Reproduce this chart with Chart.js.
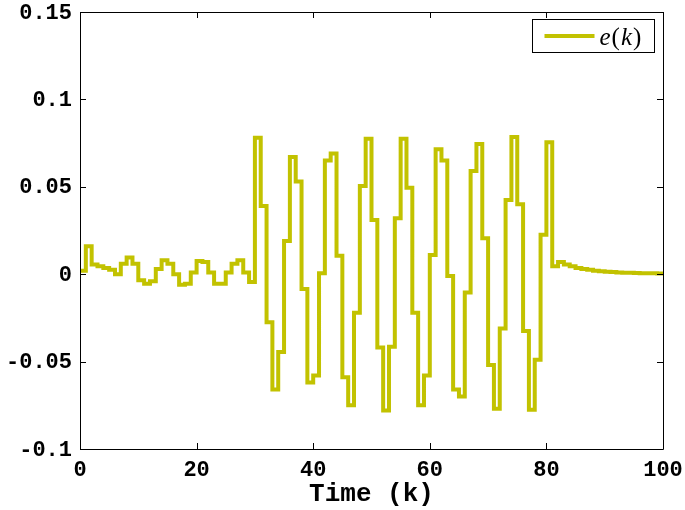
<!DOCTYPE html>
<html>
<head>
<meta charset="utf-8">
<script src="https://cdn.jsdelivr.net/npm/chart.js@4"></script>
<style>
  html, body { margin: 0; padding: 0; background: #fff; }
  #wrap { width: 685px; height: 510px; }
</style>
</head>
<body>
<div id="wrap"><canvas id="errChart" width="685" height="510"></canvas></div>
<script>
// time steps k = 0..100
const timeSteps = Array.from({ length: 101 }, (_, i) => i);

// tracking error e(k), one value per step
const errorValues = [
    0.002, 0.016, 0.0055, 0.0045, 0.0035, 0.0025, 0.0, 0.006, 0.0095, 0.006,
    -0.0035, -0.0055, -0.004, 0.003, 0.008, 0.006, 0.0, -0.006, -0.0055, 0.001,
    0.0075, 0.007, 0.001, -0.0055, -0.0055, 0.001, 0.006, 0.008, 0.001, -0.0045,
    0.078, 0.039, -0.0275, -0.066, -0.0445, 0.019, 0.067, 0.053, -0.0085, -0.062,
    -0.058, 0.0005, 0.065, 0.069, 0.0105, -0.059, -0.075, -0.022, 0.0505, 0.0775,
    0.031, -0.042, -0.078, -0.0415, 0.032, 0.0775, 0.0495, -0.022, -0.075, -0.058,
    0.011, 0.0715, 0.065, -0.001, -0.066, -0.070, -0.0105, 0.059, 0.0745, 0.0205,
    -0.052, -0.077, -0.031, 0.0425, 0.0785, 0.040, -0.0325, -0.0775, -0.049, 0.0225,
    0.0755, 0.0045, 0.007, 0.0055, 0.0045, 0.0035, 0.003, 0.0025, 0.002, 0.0017,
    0.0014, 0.0012, 0.001, 0.0009, 0.0008, 0.0007, 0.0006, 0.0005, 0.0005, 0.0004,
    0.0004
];

const xTicks = [0, 20, 40, 60, 80, 100];
const yTicks = [-0.1, -0.05, 0, 0.05, 0.1, 0.15];
const yTickLabels = ['-0.1', '-0.05', '0', '0.05', '0.1', '0.15'];
const xTitle = 'Time (k)';

const lineColor = '#c2c200';
const monoFont = '"Liberation Mono", "Courier New", monospace';
const serifFont = '"Liberation Serif", "DejaVu Serif", serif';

// box around the plot, inward ticks on all four sides, legend inside
const framePlugin = {
    id: 'frame',
    afterDraw(chart) {
        const ctx = chart.ctx;
        const a = chart.chartArea;
        const xs = chart.scales.x;
        const ys = chart.scales.y;
        const tl = 6;
        ctx.save();
        ctx.strokeStyle = '#000';
        ctx.lineWidth = 1;
        ctx.beginPath();
        ctx.rect(Math.round(a.left) + 0.5, Math.round(a.top) + 0.5,
            Math.round(a.right - a.left), Math.round(a.bottom - a.top));
        xTicks.forEach(v => {
            const px = Math.round(xs.getPixelForValue(v)) + 0.5;
            ctx.moveTo(px, a.bottom);
            ctx.lineTo(px, a.bottom - tl);
            ctx.moveTo(px, a.top);
            ctx.lineTo(px, a.top + tl);
        });
        yTicks.forEach(v => {
            const py = Math.round(ys.getPixelForValue(v)) + 0.5;
            ctx.moveTo(a.left, py);
            ctx.lineTo(a.left + tl, py);
            ctx.moveTo(a.right, py);
            ctx.lineTo(a.right - tl, py);
        });
        ctx.stroke();

        // legend box
        const bx = Math.round(a.right) - 130.5, by = Math.round(a.top) + 7.5, bw = 122, bh = 33;
        ctx.fillStyle = '#fff';
        ctx.fillRect(bx, by, bw, bh);
        ctx.strokeRect(bx, by, bw, bh);
        ctx.strokeStyle = lineColor;
        ctx.lineWidth = 4;
        ctx.beginPath();
        ctx.moveTo(bx + 12, by + bh / 2);
        ctx.lineTo(bx + 62, by + bh / 2);
        ctx.stroke();

        ctx.fillStyle = '#000';
        ctx.textBaseline = 'alphabetic';
        ctx.textAlign = 'left';
        let tx = bx + 67;
        const ty = by + 25;
        const parts = [
            ['e', 'italic 25px ' + serifFont],
            ['(', '25px ' + serifFont],
            ['k', 'italic 25px ' + serifFont],
            [')', '25px ' + serifFont]
        ];
        parts.forEach(([s, f]) => {
            ctx.font = f;
            ctx.fillText(s, tx, ty);
            tx += ctx.measureText(s).width + 1;
        });
        ctx.restore();
    }
};

const ctx = document.getElementById('errChart').getContext('2d');
new Chart(ctx, {
    type: 'line',
    data: {
        datasets: [{
            label: 'e(k)',
            data: timeSteps.map((k, i) => ({ x: k, y: errorValues[i] })),
            borderColor: lineColor,
            borderWidth: 4,
            stepped: 'before',
            pointRadius: 0,
            fill: false
        }]
    },
    options: {
        responsive: false,
        animation: false,
        layout: { padding: { left: 0, right: 22, top: 12, bottom: 0 } },
        plugins: {
            legend: { display: false },
            tooltip: { enabled: false }
        },
        scales: {
            x: {
                type: 'linear',
                min: 0,
                max: 100,
                afterBuildTicks: scale => { scale.ticks = xTicks.map(v => ({ value: v })); },
                afterFit: scale => {
                    scale.height = 61;
                    scale.paddingLeft = 0;
                    scale.paddingRight = 0;
                },
                grid: { display: false },
                border: { display: false },
                ticks: {
                    color: '#000',
                    padding: 0,
                    maxRotation: 0,
                    font: { family: monoFont, size: 22, weight: 'bold' },
                    callback: v => String(v)
                },
                title: {
                    display: true,
                    text: xTitle,
                    color: '#000',
                    padding: { top: 0, bottom: 0 },
                    font: { family: monoFont, size: 26, weight: 'bold' }
                }
            },
            y: {
                min: -0.1,
                max: 0.15,
                afterBuildTicks: scale => { scale.ticks = yTicks.map(v => ({ value: v })); },
                afterFit: scale => {
                    scale.width = 80;
                    scale.paddingTop = 0;
                    scale.paddingBottom = 0;
                },
                grid: { display: false },
                border: { display: false },
                ticks: {
                    color: '#000',
                    padding: 0,
                    labelOffset: 1,
                    font: { family: monoFont, size: 22, weight: 'bold' },
                    callback: (v, i) => yTickLabels[i]
                }
            }
        }
    },
    plugins: [framePlugin]
});
</script>
</body>
</html>
